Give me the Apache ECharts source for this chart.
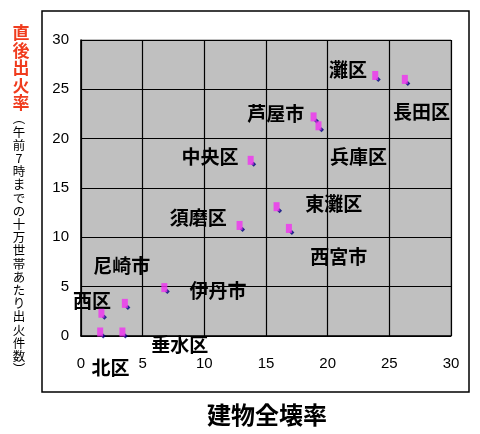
<!DOCTYPE html>
<html>
<head>
<meta charset="utf-8">
<script src="https://cdn.jsdelivr.net/npm/echarts@6/dist/echarts.min.js"></script>
<style>
  html, body { margin: 0; padding: 0; background: #fff; }
  #main { width: 480px; height: 434px; }
</style>
</head>
<body>
<div id="main"></div>
<script>
// 建物全壊率 (x) と 直後出火率 (y)
const xVals = [24.1, 26.5, 19.1, 19.5, 14.0, 16.1, 17.1, 13.1, 7.0, 1.9, 3.8, 1.8, 3.6]
const yVals = [26.0, 25.6, 21.8, 20.9, 17.4, 12.7, 10.5, 10.8, 4.5, 1.9, 2.9, 0, 0]

// 地名ラベル (中心位置はデータ座標)
const labelNames = ['灘区', '長田区', '芦屋市', '中央区', '兵庫区', '東灘区', '須磨区', '西宮市', '尼崎市', '伊丹市', '西区', '垂水区', '北区']
const labelAt = [
  [21.65, 26.95], [27.6, 22.7], [15.8, 22.5], [10.45, 18.2], [22.5, 18.2], [20.5, 13.4],
  [9.5, 12.0], [20.9, 8.0], [3.3, 7.1], [11.1, 4.55], [0.9, 3.55], [8.0, -0.9], [2.4, -3.2]
]

const axisMin = 0
const axisMax = 30
const axisStep = 5

const xTitle = '建物全壊率'
const yTitleMain = '直後出火率'
const yTitleSub = '︵午前7時までの十万世帯あたり出火件数︶'

const points = xVals.map((x, i) => [x, yVals[i]])

const chart = echarts.init(document.getElementById('main'))

const tickLabel = {
  color: '#000',
  fontFamily: 'Liberation Sans Narrow, Arial Narrow, sans-serif',
  fontSize: 15
}

const option = {
  animation: false,
  backgroundColor: '#fff',
  grid: { left: 81, top: 40, right: 29, bottom: 98, show: true, backgroundColor: '#c0c0c0', borderColor: '#808080', borderWidth: 1 },
  xAxis: {
    type: 'value', min: axisMin, max: axisMax, interval: axisStep,
    axisLine: { show: true, onZero: false, lineStyle: { color: '#000', width: 1.5 } },
    axisTick: { show: false },
    splitLine: { show: true, lineStyle: { color: '#000', width: 1.2 } },
    axisLabel: Object.assign({ margin: 20 }, tickLabel)
  },
  yAxis: {
    type: 'value', min: axisMin, max: axisMax, interval: axisStep,
    axisLine: { show: true, onZero: false, lineStyle: { color: '#000', width: 1.5 } },
    axisTick: { show: false },
    splitLine: { show: true, lineStyle: { color: '#000', width: 1.2 } },
    axisLabel: Object.assign({ margin: 12 }, tickLabel)
  },
  series: [
    {
      type: 'scatter', data: points, symbol: 'diamond', symbolSize: 5,
      itemStyle: { color: '#000080' }, z: 3, clip: false
    },
    {
      type: 'scatter', data: points, symbol: 'rect', symbolSize: [6, 9], symbolOffset: [-3, -4],
      itemStyle: { color: '#f030f0' }, z: 4, clip: false
    }
  ]
}

chart.setOption(option)

const graphics = [
  {
    type: 'rect', z: -10, silent: true,
    shape: { x: 42, y: 11, width: 427, height: 381 },
    style: { fill: 'transparent', stroke: '#000', lineWidth: 1.5 }
  },
  {
    type: 'text', x: 267, y: 415,
    style: {
      text: xTitle, fill: '#000', align: 'center', verticalAlign: 'middle',
      font: 'bold 24px "Noto Sans CJK JP", sans-serif'
    }
  },
  {
    type: 'text', x: 21, y: 24,
    style: {
      text: yTitleMain.split('').join('\n'), fill: '#f03c1e', align: 'center',
      font: 'bold 17px "Noto Sans CJK JP", sans-serif', lineHeight: 17.5
    }
  },
  {
    type: 'text', x: 19, y: 112,
    style: {
      text: yTitleSub.split('').join('\n'), fill: '#000', align: 'center',
      font: '12.5px "Noto Sans CJK JP", sans-serif', lineHeight: 13.2
    }
  }
]

labelNames.forEach((name, i) => {
  const p = chart.convertToPixel({ gridIndex: 0 }, labelAt[i])
  graphics.push({
    type: 'text', x: p[0], y: p[1],
    style: {
      text: name, fill: '#000', align: 'center', verticalAlign: 'middle',
      font: 'bold 19px "Noto Sans CJK JP", sans-serif'
    }
  })
})

chart.setOption({ graphic: graphics })
</script>
</body>
</html>
